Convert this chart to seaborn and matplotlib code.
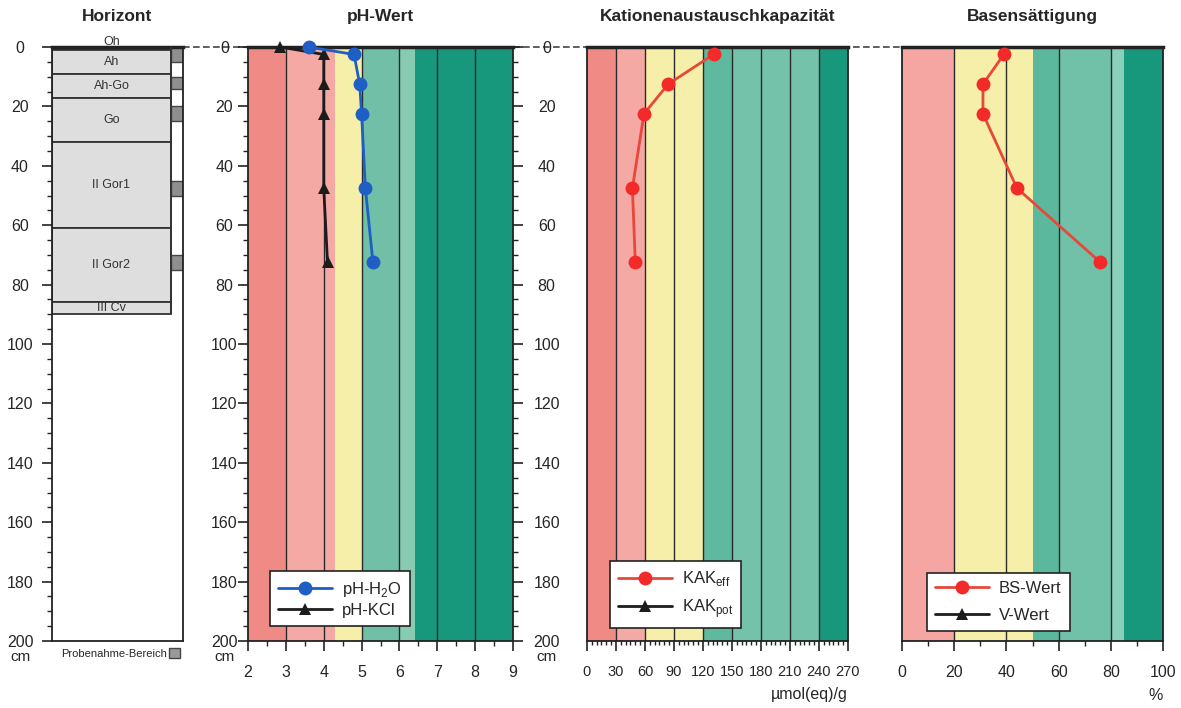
import matplotlib
matplotlib.use("Agg")
import matplotlib.pyplot as plt
import seaborn as sns
from matplotlib.lines import Line2D
from matplotlib.patches import Rectangle, Patch
from matplotlib.ticker import MultipleLocator

# --- Horizonte und Probenahme (Tiefen in cm) ---
horizon_names = ["Oh", "Ah", "Ah-Go", "Go", "II Gor1", "II Gor2", "III Cv"]
horizon_top = [0, 1, 9, 17, 32, 61, 86]
horizon_bottom = [1, 9, 17, 32, 61, 86, 90]
sample_top = [0, 10, 20, 45, 70]
sample_bottom = [5, 14, 25, 50, 75]

# --- Messwerte ---
ph_depth = [0, 2.5, 12.5, 22.5, 47.5, 72.5]
ph_h2o = [3.6, 4.8, 4.95, 5.0, 5.1, 5.3]
ph_kcl = [2.85, 4.0, 4.0, 4.0, 4.0, 4.1]

sample_depth = [2.5, 12.5, 22.5, 47.5, 72.5]
kak_eff = [131, 84, 59, 47, 50]
bs_wert = [39, 31, 31, 44, 76]

# --- Bewertungsklassen (Farbbänder) ---
ph_edges = [2, 3, 4.3, 5, 6, 6.4, 9]
ph_colors = ["#f08a84", "#f5a9a5", "#f6efa9", "#70bfa6", "#88cbb3", "#17977c"]
kak_edges = [0, 30, 60, 120, 150, 240, 270]
kak_colors = ["#f08a84", "#f5a9a5", "#f6efa9", "#5fb99f", "#74c2a9", "#17977c"]
bs_edges = [0, 20, 50, 60, 80, 85, 100]
bs_colors = ["#f5a6a3", "#f6efa9", "#5cb89d", "#70c1a8", "#8acfb7", "#17977c"]

sns.set_style("ticks")
plt.rcParams["font.family"] = ["Liberation Sans", "DejaVu Sans"]
plt.rcParams["mathtext.fontset"] = "custom"
plt.rcParams["mathtext.rm"] = "Liberation Sans"
plt.rcParams["axes.edgecolor"] = "#222222"
plt.rcParams["axes.linewidth"] = 1.3

fig = plt.figure(figsize=(11.81, 7.08), dpi=100)
bottom, height = 0.0946, 0.839
ax_h = fig.add_axes([0.044, bottom, 0.111, height])
ax_ph = fig.add_axes([0.210, bottom, 0.2244, height])
ax_kak = fig.add_axes([0.497, bottom, 0.221, height])
ax_bs = fig.add_axes([0.7638, bottom, 0.221, height])

title_kw = dict(fontsize=12.5, fontweight="bold", pad=19)


def depth_axis(ax):
    ax.set_ylim(200, 0)
    ax.set_yticks(range(0, 201, 20))
    ax.yaxis.set_minor_locator(MultipleLocator(5))
    ax.tick_params(axis="both", which="major", length=7, width=1.2, labelsize=11.5, color="#222222")
    ax.tick_params(axis="both", which="minor", length=3.5, width=1.0, color="#222222")
    ax.spines["top"].set_linewidth(2.5)


def bands(ax, edges, colors, major):
    for lo, hi, c in zip(edges[:-1], edges[1:], colors):
        ax.axvspan(lo, hi, color=c, lw=0, zorder=0)
    for v in major:
        ax.axvline(v, color="#2a2a2a", lw=1.0, zorder=1)


# --- Horizont ---
depth_axis(ax_h)
ax_h.set_xlim(0, 1)
ax_h.set_xticks([])
box_w = 0.908
for name, top, bot in zip(horizon_names, horizon_top, horizon_bottom):
    fc = "#555555" if name == "Oh" else "#dedede"
    ax_h.add_patch(Rectangle((0, top), box_w, bot - top, facecolor=fc, edgecolor="#333333", lw=1.3, zorder=2))
    y = -1.8 if name == "Oh" else (top + bot) / 2
    ax_h.text(box_w / 2, y, name, ha="center", va="center", fontsize=9, color="#333333", zorder=3, clip_on=False)
ax_h.vlines(box_w, 0, horizon_bottom[-1], color="#333333", lw=1.3, zorder=3)
for top, bot in zip(sample_top, sample_bottom):
    ax_h.add_patch(Rectangle((box_w, top), 1 - box_w, bot - top, facecolor="#8f8f8f", edgecolor="#444444", lw=1.0, zorder=2))
ax_h.tick_params(axis="y", which="major", pad=16)
for t in ax_h.get_yticklabels():
    t.set_horizontalalignment("center")
ax_h.set_title("Horizont", **title_kw)
ax_h.legend(handles=[Patch(facecolor="#9a9a9a", edgecolor="#444444")], labels=["Probenahme-Bereich"],
            markerfirst=False, loc="upper right", bbox_to_anchor=(1.01, -0.005), frameon=False,
            handlelength=1.0, handleheight=0.9, handletextpad=0.2, borderaxespad=0, fontsize=8)

# --- pH-Wert ---
depth_axis(ax_ph)
ax_ph.set_xlim(2, 9)
ax_ph.xaxis.set_major_locator(MultipleLocator(1))
ax_ph.xaxis.set_minor_locator(MultipleLocator(0.5))
bands(ax_ph, ph_edges, ph_colors, range(3, 9))
sns.lineplot(x=ph_kcl, y=ph_depth, orient="y", ax=ax_ph, color="#1c1c1c", lw=2, marker="^",
             markersize=8, markeredgewidth=0, clip_on=False, zorder=4)
sns.lineplot(x=ph_h2o, y=ph_depth, orient="y", ax=ax_ph, color="#1f5ec4", lw=2, marker="o",
             markersize=10, markeredgewidth=0, clip_on=False, zorder=5)
ax_ph.tick_params(axis="y", which="both", right=True)
ax_ph.tick_params(axis="y", which="major", pad=10)
ax_ph.tick_params(axis="x", which="major", pad=10)
for t in ax_ph.get_yticklabels():
    t.set_horizontalalignment("center")
ax_ph.set_title("pH-Wert", **title_kw)

# --- Kationenaustauschkapazität ---
depth_axis(ax_kak)
ax_kak.set_xlim(0, 270)
ax_kak.xaxis.set_major_locator(MultipleLocator(30))
ax_kak.xaxis.set_minor_locator(MultipleLocator(5))
bands(ax_kak, kak_edges, kak_colors, range(30, 270, 30))
sns.lineplot(x=kak_eff, y=sample_depth, orient="y", ax=ax_kak, color="#e8473a", lw=2, marker="o",
             markersize=10, markerfacecolor="#f22a2a", markeredgewidth=0, clip_on=False, zorder=5)
ax_kak.tick_params(axis="y", which="both", length=0)
ax_kak.tick_params(axis="y", which="major", pad=29)
ax_kak.tick_params(axis="x", which="major", pad=10, labelsize=10.5)
ax_kak.tick_params(axis="x", which="minor", length=3)
for t in ax_kak.get_yticklabels():
    t.set_horizontalalignment("center")
ax_kak.set_title("Kationenaustauschkapazität", **title_kw)
ax_kak.set_xlabel("µmol(eq)/g", loc="right", fontsize=11.5, labelpad=6)

# --- Basensättigung ---
depth_axis(ax_bs)
ax_bs.set_xlim(0, 100)
ax_bs.xaxis.set_major_locator(MultipleLocator(20))
ax_bs.xaxis.set_minor_locator(MultipleLocator(10))
bands(ax_bs, bs_edges, bs_colors, range(20, 100, 20))
sns.lineplot(x=bs_wert, y=sample_depth, orient="y", ax=ax_bs, color="#e8473a", lw=2, marker="o",
             markersize=10, markerfacecolor="#f22a2a", markeredgewidth=0, clip_on=False, zorder=5)
ax_bs.tick_params(axis="y", which="both", left=False, labelleft=False)
ax_bs.tick_params(axis="x", which="major", pad=10)
ax_bs.set_title("Basensättigung", **title_kw)
ax_bs.set_xlabel("%", loc="right", fontsize=11.5, labelpad=6)

# "cm" unter den Tiefenskalen
for ax, off in [(ax_h, -23), (ax_ph, -17), (ax_kak, -29)]:
    ax.annotate("cm", xy=(0, 200), xycoords=("axes fraction", "data"), xytext=(off, -6.5),
                textcoords="offset points", ha="center", va="top", fontsize=11)

# Legenden
leg_kw = dict(loc="lower left", frameon=True, fancybox=False, edgecolor="#222222", framealpha=1,
              fontsize=12, handlelength=3.2, handletextpad=0.6, borderaxespad=0, borderpad=0.5)


def handle(color, marker, size, mfc=None):
    return Line2D([], [], color=color, lw=2, marker=marker, markersize=size,
                  markerfacecolor=mfc or color, markeredgewidth=0)


leg = ax_ph.legend(handles=[handle("#1f5ec4", "o", 10), handle("#1c1c1c", "^", 8)],
                   labels=["pH-H$_2$O", "pH-KCl"], bbox_to_anchor=(0.083, 0.025), labelspacing=0.25, **leg_kw)
leg.get_frame().set_linewidth(1.2)
leg = ax_kak.legend(handles=[handle("#e8473a", "o", 10, "#f22a2a"), handle("#1c1c1c", "^", 8)],
                    labels=[r"KAK$_{\mathrm{eff}}$", r"KAK$_{\mathrm{pot}}$"], bbox_to_anchor=(0.088, 0.022),
                    labelspacing=0.5, **leg_kw)
leg.get_frame().set_linewidth(1.2)
leg = ax_bs.legend(handles=[handle("#e8473a", "o", 10, "#f22a2a"), handle("#1c1c1c", "^", 8)],
                   labels=["BS-Wert", "V-Wert"], bbox_to_anchor=(0.096, 0.017), labelspacing=0.7, **leg_kw)
leg.get_frame().set_linewidth(1.2)

# gestrichelte Null-Linie zwischen den Profilen
y0 = ax_h.get_position().y1
fig.add_artist(Line2D([ax_h.get_position().x1, ax_bs.get_position().x0], [y0, y0],
                      transform=fig.transFigure, color="#444444", lw=1.2, ls=(0, (4, 2)), zorder=0))

fig.savefig("out.png", dpi=100)
